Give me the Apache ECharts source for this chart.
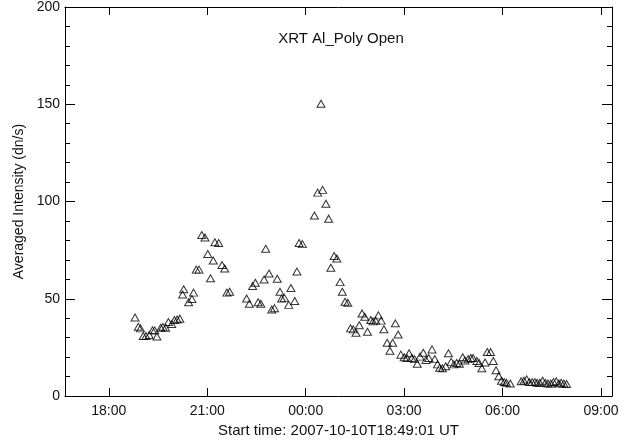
<!DOCTYPE html>
<html>
<head>
<meta charset="utf-8">
<script src="https://cdn.jsdelivr.net/npm/echarts@6/dist/echarts.min.js"></script>
<style>html,body{margin:0;padding:0;background:#fff}#c{width:635px;height:443px}</style>
</head>
<body>
<div id="c"></div>
<script>
// Observation times (UT, starting 2007-10-10 18:49) and averaged intensities (dn/s)
const times = ["18:48","18:54","18:58","19:03","19:08","19:14","19:20","19:24","19:28","19:35","19:39","19:44","19:49","19:55","20:00","20:05","20:10","20:15","20:17","20:26","20:32","20:35","20:40","20:45","20:50","20:56","21:01","21:06","21:11","21:14","21:21","21:27","21:32","21:36","21:41","22:12","22:17","22:23","22:28","22:33","22:38","22:44","22:47","22:53","22:58","23:03","23:08","23:13","23:16","23:21","23:29","23:33","23:40","23:44","23:48","23:54","00:16","00:22","00:28","00:31","00:37","00:42","00:46","00:52","00:57","01:03","01:07","01:12","01:17","01:22","01:27","01:32","01:38","01:43","01:48","01:53","01:59","02:03","02:08","02:13","02:18","02:23","02:29","02:34","02:39","02:44","02:49","02:54","03:00","03:05","03:09","03:14","03:19","03:24","03:29","03:35","03:40","03:45","03:51","03:56","04:01","04:05","04:10","04:16","04:21","04:26","04:31","04:36","04:41","04:47","04:51","04:57","05:02","05:06","05:13","05:17","05:22","05:28","05:32","05:38","05:43","05:48","05:53","05:58","06:03","06:07","06:14","06:34","06:39","06:44","06:49","06:54","06:59","07:03","07:08","07:13","07:18","07:23","07:28","07:33","07:38","07:43","07:47","07:52","07:57"];
const intensity = [40.4,35.6,34.8,30.9,30.9,31.4,33.8,33.8,30.6,35.1,35.6,35.1,38.1,37.1,39.1,39.4,39.8,52.2,54.9,48.2,49.9,53.2,65.0,65.0,82.8,81.5,73.0,60.6,69.7,79.1,78.7,67.4,65.6,53.2,53.6,50.2,47.5,56.6,58.3,48.2,47.5,59.9,75.7,63.0,44.5,45.2,60.3,53.6,50.2,50.5,46.9,55.6,48.9,64.0,78.7,78.1,92.8,104.6,150.3,106.0,98.9,91.2,66.0,72.0,70.7,58.6,53.6,48.5,48.0,34.8,34.3,32.6,36.4,42.5,40.8,33.1,39.1,38.4,38.8,41.5,38.8,34.4,27.4,23.3,27.4,37.4,31.7,21.3,20.0,19.6,22.0,19.6,19.0,16.6,20.3,22.3,18.6,19.6,24.0,19.0,16.3,14.6,14.3,15.3,22.0,17.6,16.3,17.0,16.6,20.0,18.3,19.0,19.6,19.6,18.0,17.0,14.3,17.3,22.7,22.7,18.0,13.3,10.2,7.9,7.2,6.9,6.5,7.6,7.9,8.6,7.2,7.2,7.2,6.9,6.9,7.9,6.9,6.5,6.5,7.2,7.6,6.5,6.9,6.5,6.2];
const xTickHours = [18, 21, 24, 27, 30, 33];
const yTicks = [0, 50, 100, 150, 200];

function toHours(t) {
  const [h, m] = t.split(':').map(Number);
  let v = h + m / 60;
  if (v < 12) v += 24;
  return v;
}
const points = times.map((t, i) => [toHours(t), intensity[i]]);
const fmt = v => String(Math.round(v) % 24).padStart(2, '0') + ':00';

const font = 'Liberation Sans, Arial, sans-serif';
const xMin = 16 + 2 / 3, xMax = 33 + 1 / 3;
const axisLine = { show: true, onZero: false, lineStyle: { color: '#000', width: 1 } };

const chart = echarts.init(document.getElementById('c'), null, { renderer: 'canvas' });
chart.setOption({
  animation: false,
  backgroundColor: '#fff',
  title: {
    text: 'XRT Al_Poly Open', left: 336, top: 26, textAlign: 'center',
    textStyle: { fontFamily: font, fontSize: 15, fontWeight: 'normal', color: '#111' }
  },
  grid: { left: 65, right: 23, top: 6, bottom: 40, containLabel: false },
  xAxis: [{
    type: 'value', min: xMin, max: xMax, position: 'bottom',
    axisLine,
    splitLine: { show: false },
    axisTick: { show: true, inside: true, length: 8, customValues: xTickHours, lineStyle: { color: '#000' } },
    axisLabel: { show: true, customValues: xTickHours, formatter: fmt, margin: 8, fontFamily: font, fontSize: 14, color: '#111' },
    name: 'Start time: 2007-10-10T18:49:01 UT', nameLocation: 'middle', nameGap: 25,
    nameTextStyle: { fontFamily: font, fontSize: 15, color: '#111' }
  }, {
    type: 'value', min: xMin, max: xMax, position: 'top',
    axisLine,
    splitLine: { show: false },
    axisTick: { show: true, inside: true, length: 8, customValues: xTickHours, lineStyle: { color: '#000' } },
    axisLabel: { show: false }
  }],
  yAxis: [{
    type: 'value', min: 0, max: 200, interval: 50, position: 'left',
    axisLine,
    splitLine: { show: false },
    axisTick: { show: true, inside: true, length: 10, lineStyle: { color: '#000' } },
    minorTick: { show: true, splitNumber: 5, length: 5, lineStyle: { color: '#000' } },
    axisLabel: { show: true, margin: 5, fontFamily: font, fontSize: 14, color: '#111', customValues: yTicks },
    name: 'Averaged Intensity (dn/s)', nameLocation: 'middle', nameGap: 34,
    nameTextStyle: { fontFamily: font, fontSize: 14, color: '#111' }
  }, {
    type: 'value', min: 0, max: 200, interval: 50, position: 'right',
    axisLine,
    splitLine: { show: false },
    axisTick: { show: true, inside: true, length: 10, lineStyle: { color: '#000' } },
    minorTick: { show: true, splitNumber: 5, length: 5, lineStyle: { color: '#000' } },
    axisLabel: { show: false }
  }],
  series: [{
    type: 'scatter', xAxisIndex: 0, yAxisIndex: 0,
    data: points,
    symbol: 'triangle', symbolSize: [8, 7],
    itemStyle: { color: 'rgba(0,0,0,0)', borderColor: '#000', borderWidth: 1 }
  }]
});
</script>
</body>
</html>
